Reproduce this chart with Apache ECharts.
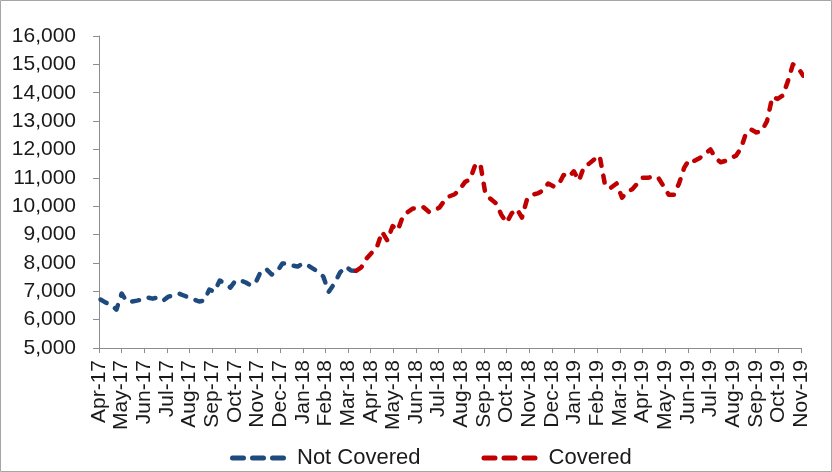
<!DOCTYPE html>
<html>
<head>
<meta charset="utf-8">
<script src="https://cdn.jsdelivr.net/npm/echarts@6/dist/echarts.min.js"></script>
<style>
  html, body { margin: 0; padding: 0; background: #fff; }
  #chart { width: 832px; height: 472px; }
</style>
</head>
<body>
<div id="chart"></div>
<script>
// Month tick labels along the x axis (one per month start)
const monthLabels = [
  'Apr-17','May-17','Jun-17','Jul-17','Aug-17','Sep-17','Oct-17','Nov-17','Dec-17',
  'Jan-18','Feb-18','Mar-18','Apr-18','May-18','Jun-18','Jul-18','Aug-18','Sep-18',
  'Oct-18','Nov-18','Dec-18','Jan-19','Feb-19','Mar-19','Apr-19','May-19','Jun-19',
  'Jul-19','Aug-19','Sep-19','Oct-19','Nov-19'
];

// Weekly observations, first date of each series
const notCoveredStart = '2017-04-03';
const coveredStart = '2018-03-12';

// Weekly index levels, not covered period
const notCoveredValues = [
  6710, 6600, 6530, 6350, 6920, 6640, 6640, 6670, 6710, 6780,
  6740, 6780, 6670, 6810, 6850, 6920, 6850, 6780, 6710, 6640,
  6670, 7060, 6990, 7380, 7270, 7130, 7380, 7380, 7310, 7200,
  7340, 7730, 7770, 7590, 7700, 7980, 7980, 7910, 7870, 7980,
  7910, 7800, 7690, 7520, 6980, 7270, 7660, 7870, 7730, 7720
];

// Weekly index levels, covered period
const coveredValues = [
  7720, 7840, 8150, 8350, 8540, 9100, 8790, 9300, 9150, 9640,
  9800, 9920, 9900, 9960, 9800, 9850, 9950, 10200, 10350, 10420,
  10600, 10850, 10950, 11450, 11500, 10420, 10250, 10100, 9700, 9420,
  9750, 9900, 9600, 10250, 10400, 10450, 10550, 10800, 10700, 10750,
  11100, 11020, 11230, 10900, 11400, 11500, 11650, 11780, 10700, 10650,
  10800, 10300, 10500, 10600, 10800, 11000, 11000, 11050, 11000, 10700,
  10400, 10400, 10800, 11350, 11650, 11600, 11700, 11850, 12000, 11700,
  11550, 11600, 11700, 11780, 12050, 12600, 12700, 12600, 12650, 13000,
  13850, 13780, 13900, 14400, 15000, 14880, 14600
];

// Position of a date on a month-based scale: 0 = 1 Apr 2017, 1 = 1 May 2017, ...
function monthPos(d) {
  const y = d.getUTCFullYear(), m = d.getUTCMonth();
  const days = new Date(Date.UTC(y, m + 1, 0)).getUTCDate();
  return (y - 2017) * 12 + (m - 3) + (d.getUTCDate() - 1) / days;
}

function weeklySeries(start, values) {
  const t0 = Date.parse(start + 'T00:00:00Z');
  return values.map((v, i) => [monthPos(new Date(t0 + i * 7 * 86400000)), v]);
}

const FONT = "'Liberation Sans', Arial, sans-serif";
const BLUE = '#1F4A7E';
const RED = '#C00000';
const AXIS = '#8C8C8C';
// Legend marker: three rounded dashes, like the series line style
const dashIcon = 'path://M2.5,0H13.5A2.5,2.5 0 0 1 13.5,5H2.5A2.5,2.5 0 0 1 2.5,0Z' +
  'M22.5,0H33.5A2.5,2.5 0 0 1 33.5,5H22.5A2.5,2.5 0 0 1 22.5,0Z' +
  'M42.5,0H53.5A2.5,2.5 0 0 1 53.5,5H42.5A2.5,2.5 0 0 1 42.5,0Z';

const chart = echarts.init(document.getElementById('chart'), null, { renderer: 'canvas' });

chart.setOption({
  animation: false,
  backgroundColor: '#fff',
  textStyle: { fontFamily: FONT },
  graphic: [{
    type: 'rect',
    shape: { x: 0.5, y: 0.5, width: 831, height: 471 },
    style: { fill: 'none', stroke: '#A6A6A6', lineWidth: 1 },
    silent: true
  }],
  grid: { left: 99, right: 31, top: 36, bottom: 124, containLabel: false },
  legend: {
    left: 225,
    top: 442,
    itemWidth: 56,
    itemHeight: 5,
    itemGap: 61,
    textStyle: { fontFamily: FONT, fontSize: 22, color: '#1a1a1a', padding: [0, 0, 0, 6] },
    data: [
      { name: 'Not Covered', icon: dashIcon },
      { name: 'Covered', icon: dashIcon }
    ]
  },
  xAxis: {
    type: 'value',
    min: 0,
    max: 31,
    interval: 1,
    splitLine: { show: false },
    axisLine: { lineStyle: { color: AXIS, width: 1 } },
    axisTick: { show: true, length: 5, lineStyle: { color: AXIS } },
    axisLabel: {
      rotate: 90,
      margin: 12,
      fontFamily: FONT,
      fontSize: 21,
      color: '#1a1a1a',
      formatter: v => Number.isInteger(v) ? monthLabels[v] : ''
    }
  },
  yAxis: {
    type: 'value',
    min: 5000,
    max: 16000,
    interval: 1000,
    splitLine: { show: false },
    axisLine: { show: true, lineStyle: { color: AXIS, width: 1 } },
    axisTick: { show: true, length: 6, lineStyle: { color: AXIS } },
    axisLabel: {
      margin: 23,
      fontFamily: FONT,
      fontSize: 21,
      color: '#1a1a1a',
      formatter: v => v.toLocaleString('en-US')
    }
  },
  series: [
    {
      name: 'Not Covered',
      type: 'line',
      data: weeklySeries(notCoveredStart, notCoveredValues),
      symbol: 'none',
      clip: false,
      itemStyle: { color: BLUE },
      lineStyle: { color: BLUE, width: 4.5, type: [7, 10], cap: 'round', join: 'round' }
    },
    {
      name: 'Covered',
      type: 'line',
      data: weeklySeries(coveredStart, coveredValues),
      symbol: 'none',
      clip: false,
      itemStyle: { color: RED },
      lineStyle: { color: RED, width: 4.5, type: [7, 10], cap: 'round', join: 'round' }
    }
  ]
});
</script>
</body>
</html>
